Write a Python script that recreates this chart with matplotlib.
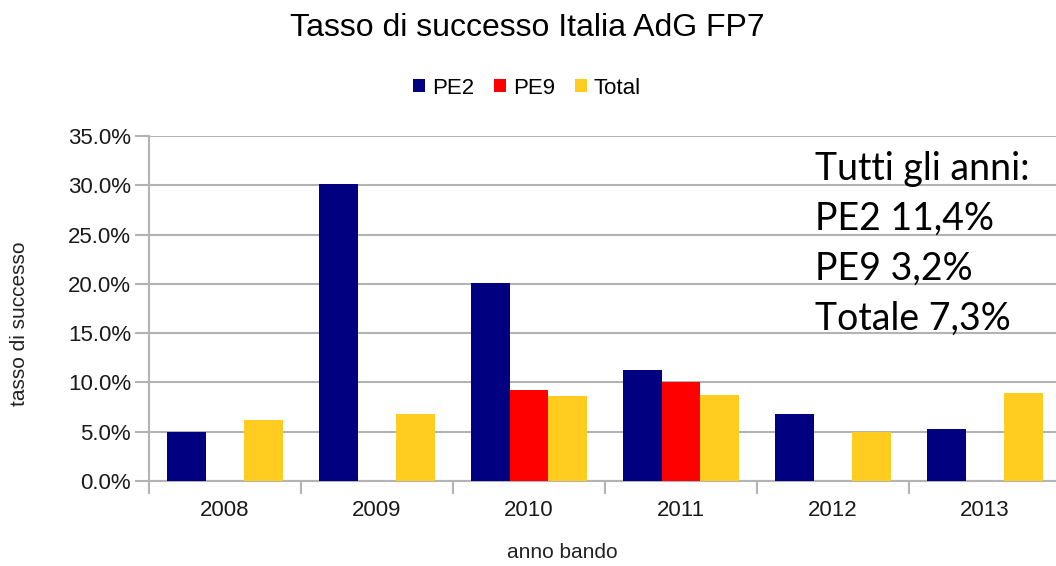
import numpy as np
import matplotlib
matplotlib.use('Agg')
import matplotlib.pyplot as plt

anni = ['2008', '2009', '2010', '2011', '2012', '2013']
pe2 = [5.0, 30.1, 20.1, 11.3, 6.8, 5.3]
pe9 = [0.0, 0.0, 9.2, 10.0, 0.0, 0.0]
totale = [6.2, 6.8, 8.6, 8.7, 5.0, 8.9]
y_ticks = [0, 5, 10, 15, 20, 25, 30, 35]
nota = ['Tutti gli anni:', 'PE2 11,4%', 'PE9 3,2%', 'Totale 7,3%']

plt.rcParams['font.family'] = ['Liberation Sans', 'DejaVu Sans']

fig = plt.figure(figsize=(10.56, 5.66), dpi=100)
ax = fig.add_axes([149/1056, 85/566, 912/1056, 345/566])

x = np.arange(len(anni))
w = 0.255
ax.bar(x - w, pe2, w, color='#000080', label='PE2', linewidth=0, zorder=3)
ax.bar(x, pe9, w, color='#ff0000', label='PE9', linewidth=0, zorder=3)
ax.bar(x + w, totale, w, color='#ffcc1f', label='Total', linewidth=0, zorder=3)

ax.set_xlim(-0.5, len(anni) - 0.5)
ax.set_ylim(0, 35)
ax.set_yticks(y_ticks)
ax.set_yticklabels([f'{v:.1f}%' for v in y_ticks], fontsize=16, color='#1a1a1a')
ax.yaxis.grid(True, color='#b3b3b3', linewidth=1.5, zorder=0)

ax.set_xticks(np.arange(len(anni) + 1) - 0.5)
ax.set_xticklabels([])
ax.set_xticks(x, minor=True)
ax.set_xticklabels(anni, minor=True, fontsize=16, color='#1a1a1a')
ax.tick_params(axis='x', which='major', length=9, color='#b3b3b3', width=1.5)
ax.tick_params(axis='x', which='minor', length=0, pad=14)
ax.tick_params(axis='y', length=10, color='#b3b3b3', width=1.5, pad=3)

for s in ['top', 'right']:
    ax.spines[s].set_visible(False)
for s in ['left', 'bottom']:
    ax.spines[s].set_color('#b3b3b3')
    ax.spines[s].set_linewidth(1.5)

fig.text(562/1056, 1 - 553/566, 'anno bando', ha='center', va='center', fontsize=15, color='#222222')
fig.text(20/1056, 1 - 324/566, 'tasso di successo', ha='center', va='center', rotation=90,
         fontsize=15, color='#222222')

fig.text(527/1056, 1 - 28/566, 'Tasso di successo Italia AdG FP7', ha='center', va='center', fontsize=23)
fig.legend(loc='center', bbox_to_anchor=(527/1056, 1 - 88/566), ncol=3, frameon=False,
           fontsize=16, handlelength=0.55, handleheight=0.55, handletextpad=0.3, columnspacing=0.9)

for i, t in enumerate(nota):
    fig.text(815/1056, 1 - (180 + 50*i)/566, t, ha='left', va='baseline',
             fontsize=27, family=['Lato', 'DejaVu Sans'])

fig.savefig('out.png', dpi=100)
